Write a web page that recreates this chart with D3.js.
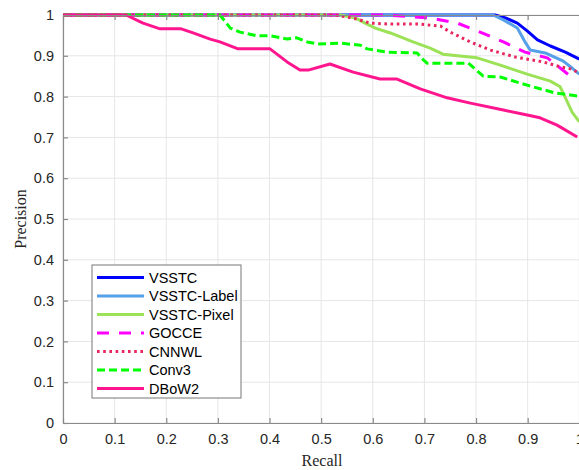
<!DOCTYPE html>
<html>
<head>
<meta charset="utf-8">
<script src="https://cdn.jsdelivr.net/npm/d3@7"></script>
<style>
  html, body { margin: 0; padding: 0; background: #fff; }
  svg { display: block; }
</style>
</head>
<body>
<svg id="chart" width="579" height="470"></svg>
<script>
// Precision-recall curves, one [recall, precision] list per method
const vsstc = [[0,1],[0.837,1],[0.857,0.993],[0.880,0.980],[0.899,0.961],[0.919,0.939],[0.944,0.924],[0.973,0.909],[1.0,0.892]];
const vsstcLabel = [[0,1],[0.833,1],[0.853,0.988],[0.880,0.968],[0.895,0.934],[0.905,0.914],[0.934,0.907],[0.969,0.887],[0.986,0.870],[1.0,0.855]];
const vsstcPixel = [[0,1],[0.537,1],[0.566,0.993],[0.585,0.980],[0.605,0.968],[0.634,0.956],[0.678,0.934],[0.711,0.919],[0.736,0.904],[0.802,0.895],[0.847,0.877],[0.899,0.855],[0.944,0.838],[0.963,0.824],[0.975,0.792],[0.986,0.762],[1.0,0.738]];
const gocce = [[0,1],[0.624,1],[0.711,0.993],[0.764,0.980],[0.808,0.958],[0.853,0.934],[0.895,0.909],[0.938,0.895],[0.963,0.870],[0.983,0.850]];
const cnnwl = [[0,1],[0.527,1],[0.550,0.995],[0.570,0.990],[0.595,0.980],[0.628,0.978],[0.686,0.978],[0.731,0.973],[0.750,0.958],[0.789,0.934],[0.828,0.914],[0.876,0.897],[0.930,0.885],[0.963,0.873],[0.983,0.868],[1.0,0.858]];
const conv3 = [[0,1],[0.304,1],[0.324,0.968],[0.343,0.958],[0.376,0.949],[0.401,0.949],[0.434,0.941],[0.453,0.944],[0.473,0.934],[0.494,0.929],[0.537,0.931],[0.576,0.926],[0.589,0.917],[0.628,0.909],[0.686,0.907],[0.698,0.890],[0.705,0.882],[0.785,0.882],[0.814,0.850],[0.847,0.848],[0.899,0.828],[0.953,0.809],[1.0,0.801]];
const dbow2 = [[0,1],[0.122,1],[0.155,0.980],[0.188,0.966],[0.229,0.966],[0.252,0.956],[0.285,0.941],[0.304,0.934],[0.339,0.917],[0.401,0.917],[0.434,0.885],[0.459,0.865],[0.475,0.865],[0.517,0.880],[0.562,0.860],[0.614,0.843],[0.647,0.843],[0.692,0.819],[0.744,0.797],[0.789,0.784],[0.853,0.767],[0.899,0.755],[0.924,0.748],[0.957,0.730],[0.996,0.701]];

const seriesNames = ["VSSTC", "VSSTC-Label", "VSSTC-Pixel", "GOCCE", "CNNWL", "Conv3", "DBoW2"];
const seriesData = [vsstc, vsstcLabel, vsstcPixel, gocce, cnnwl, conv3, dbow2];
const seriesColors = ["#0000ff", "#55a0e8", "#9be257", "#ff00ff", "#e8255e", "#00ff00", "#ff168f"];
const seriesDash = [null, null, null, "12,10", "2.6,3.6", "8,4", null];

const xTicks = [0, 0.1, 0.2, 0.3, 0.4, 0.5, 0.6, 0.7, 0.8, 0.9, 1];
const yTicks = [0, 0.1, 0.2, 0.3, 0.4, 0.5, 0.6, 0.7, 0.8, 0.9, 1];

const margin = { left: 63, top: 15, right: 0, bottom: 47 };
const width = 579, height = 470;
const x0 = margin.left, x1 = 579.3, y0 = height - margin.bottom + 0.0, y1 = margin.top;

const svg = d3.select("#chart");
const x = d3.scaleLinear().domain([0, 1]).range([x0, x1]);
const y = d3.scaleLinear().domain([0, 1]).range([423, y1]);

const axisColor = "#8a8a8a";
const gridColor = "#e6e6e6";

// grid
const grid = svg.append("g");
grid.selectAll("line.gx").data(xTicks).join("line")
  .attr("x1", d => x(d)).attr("x2", d => x(d))
  .attr("y1", y(0)).attr("y2", y(1))
  .attr("stroke", gridColor).attr("stroke-width", 1);
grid.selectAll("line.gy").data(yTicks).join("line")
  .attr("x1", x(0)).attr("x2", x(1))
  .attr("y1", d => y(d)).attr("y2", d => y(d))
  .attr("stroke", gridColor).attr("stroke-width", 1);

// curves
const clip = svg.append("clipPath").attr("id", "plotClip")
  .append("rect").attr("x", x(0) - 3).attr("y", y(1) - 3)
  .attr("width", x(1) - x(0) + 6).attr("height", y(0) - y(1) + 6);

const line = d3.line().x(d => x(d[0])).y(d => y(d[1]));
const curves = svg.append("g").attr("clip-path", "url(#plotClip)");
seriesData.forEach((data, i) => {
  curves.append("path")
    .datum(data)
    .attr("d", line)
    .attr("fill", "none")
    .attr("stroke", seriesColors[i])
    .attr("stroke-width", 3)
    .attr("stroke-linejoin", "round")
    .attr("stroke-dasharray", seriesDash[i]);
});

// axes (ticks point inward)
const fmt = d => d === 0 || d === 1 ? String(d) : d3.format(".1f")(d);
const xAxis = svg.append("g").attr("transform", `translate(0,${y(0)})`)
  .call(d3.axisBottom(x).tickValues(xTicks).tickFormat(fmt).tickSizeInner(-5).tickSizeOuter(0).tickPadding(11));
const yAxis = svg.append("g").attr("transform", `translate(${x(0)},0)`)
  .call(d3.axisLeft(y).tickValues(yTicks).tickFormat(fmt).tickSizeInner(-5).tickSizeOuter(0).tickPadding(9));
const topAxis = svg.append("g").attr("transform", `translate(0,${y(1)})`)
  .call(d3.axisTop(x).tickValues(xTicks).tickFormat("").tickSizeInner(-5).tickSizeOuter(0));

[xAxis, yAxis, topAxis].forEach(g => {
  g.select(".domain").attr("stroke", axisColor).attr("stroke-width", 1.2);
  g.selectAll(".tick line").attr("stroke", axisColor).attr("stroke-width", 1.2);
  g.selectAll(".tick text")
    .attr("fill", "#262626")
    .style("font-family", "'Liberation Sans', Arial, sans-serif")
    .style("font-size", "14.5px");
});

// axis titles
svg.append("text")
  .attr("x", 322).attr("y", 466)
  .attr("text-anchor", "middle")
  .style("font-family", "'Liberation Serif', 'Times New Roman', serif")
  .style("font-size", "16px")
  .attr("fill", "#262626")
  .text("Recall");
svg.append("text")
  .attr("transform", `translate(26,219) rotate(-90)`)
  .attr("text-anchor", "middle")
  .style("font-family", "'Liberation Serif', 'Times New Roman', serif")
  .style("font-size", "16px")
  .attr("fill", "#262626")
  .text("Precision");

// legend
const legend = svg.append("g").attr("transform", "translate(92,265)");
legend.append("rect")
  .attr("width", 149).attr("height", 133)
  .attr("fill", "#fff").attr("stroke", "#777").attr("stroke-width", 1);
seriesNames.forEach((name, i) => {
  const ly = 12.5 + i * 18.5;
  legend.append("line")
    .attr("x1", 5).attr("x2", 52).attr("y1", ly).attr("y2", ly)
    .attr("stroke", seriesColors[i]).attr("stroke-width", 3)
    .attr("stroke-dasharray", seriesDash[i]);
  legend.append("text")
    .attr("x", 57).attr("y", ly + 5)
    .style("font-family", "'Liberation Sans', Arial, sans-serif")
    .style("font-size", "14.5px")
    .attr("fill", "#000")
    .text(name);
});
</script>
</body>
</html>
